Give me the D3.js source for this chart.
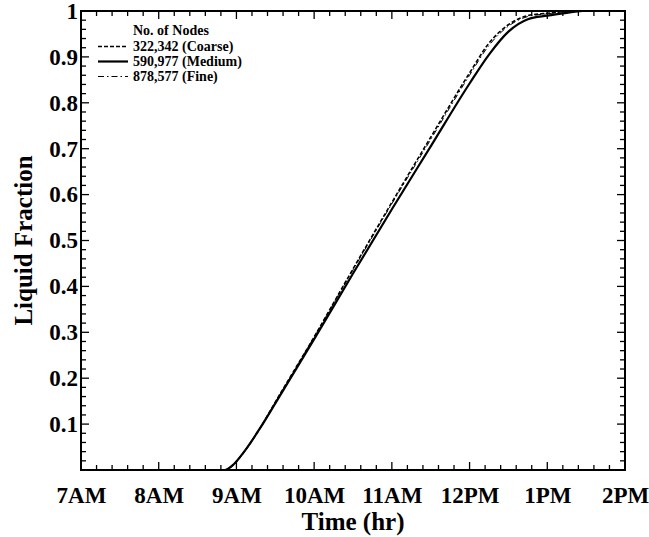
<!DOCTYPE html>
<html><head><meta charset="utf-8">
<script src="https://cdn.jsdelivr.net/npm/d3@7"></script>
<style>body{margin:0;background:#fff}svg{display:block}text{font-family:"Liberation Serif","Times New Roman",serif;font-weight:bold;fill:#000}</style>
</head><body>
<svg id="c" width="649" height="537"></svg>
<script>
const xTickLabels = ["7AM","8AM","9AM","10AM","11AM","12PM","1PM","2PM"];
const xTickValues = [7,8,9,10,11,12,13,14];
const yTickValues = [0.1,0.2,0.3,0.4,0.5,0.6,0.7,0.8,0.9,1];
const seriesNames = ["322,342 (Coarse)","590,977 (Medium)","878,577 (Fine)"];
const coarseT = [7.0,8.85,8.95,9.1,9.3,9.5,10.0,10.5,11.0,11.5,12.0,12.25,12.5,12.75,13.0,13.3];
const coarseF = [0,0,0.01,0.04,0.09,0.148,0.29,0.438,0.583,0.725,0.865,0.93,0.97,0.99,0.995,1.0];
const mediumT = [7.0,8.85,8.95,9.1,9.3,9.5,10.0,10.5,11.0,11.5,12.0,12.25,12.5,12.75,13.0,13.25,13.45];
const mediumF = [0,0,0.01,0.04,0.09,0.145,0.285,0.428,0.568,0.705,0.842,0.905,0.955,0.982,0.99,0.996,1.0];
const fineT = [7.0,8.85,8.95,9.1,9.3,9.5,10.0,10.5,11.0,11.5,12.0,12.25,12.5,12.75,13.0,13.35];
const fineF = [0,0,0.01,0.04,0.09,0.147,0.29,0.436,0.58,0.72,0.86,0.925,0.967,0.988,0.994,1.0];

const svg = d3.select("#c");
const L=81,R=625,T=11,B=470;
const x = d3.scaleLinear().domain([7,14]).range([L,R]);
const y = d3.scaleLinear().domain([0,1]).range([B,T]);

const g = svg.append("g");
const xMinor = d3.range(7,14.001,0.2);
const yMinor = d3.range(0,1.0001,0.02);
function isMajorX(v){return Math.abs(v-Math.round(v))<1e-6;}
function isMajorY(v){return Math.abs(v*10-Math.round(v*10))<1e-6;}
xMinor.forEach(v=>{
  const len = isMajorX(v)?8:5;
  g.append("line").attr("x1",x(v)).attr("x2",x(v)).attr("y1",B).attr("y2",B-len).attr("stroke","#000").attr("stroke-width",1.3);
  g.append("line").attr("x1",x(v)).attr("x2",x(v)).attr("y1",T).attr("y2",T+len).attr("stroke","#000").attr("stroke-width",1.3);
});
yMinor.forEach(v=>{
  const len = isMajorY(v)?8:5;
  g.append("line").attr("x1",L).attr("x2",L+len).attr("y1",y(v)).attr("y2",y(v)).attr("stroke","#000").attr("stroke-width",1.3);
  g.append("line").attr("x1",R).attr("x2",R-len).attr("y1",y(v)).attr("y2",y(v)).attr("stroke","#000").attr("stroke-width",1.3);
});

const xAxis = d3.axisBottom(x).tickValues(xTickValues).tickFormat((d,i)=>xTickLabels[i]).tickSize(0).tickPadding(17);
const xa = svg.append("g").attr("transform",`translate(0,${B})`).call(xAxis);
xa.select(".domain").remove();
xa.selectAll("text").attr("font-size",23).attr("font-family","Liberation Serif").attr("font-weight","bold").attr("fill","#000");
const yAxis = d3.axisLeft(y).tickValues(yTickValues).tickFormat(d=>d===1?"1":d3.format(".1f")(d)).tickSize(0).tickPadding(3);
const ya = svg.append("g").attr("transform",`translate(${L},0)`).call(yAxis);
ya.select(".domain").remove();
ya.selectAll("text").attr("font-size",23).attr("font-family","Liberation Serif").attr("font-weight","bold").attr("fill","#000");

const line = d3.line().x(d=>x(d[0])).y(d=>y(d[1])).curve(d3.curveMonotoneX);
const styles = [
  {dash:"4,2",w:1.6},
  {dash:null,w:2.2},
  {dash:"6,3,1.5,3",w:1}
];
const data = [d3.zip(coarseT,coarseF), d3.zip(mediumT,mediumF), d3.zip(fineT,fineF)];
data.forEach((d,i)=>{
  const p = svg.append("path").datum(d).attr("d",line).attr("fill","none").attr("stroke","#000").attr("stroke-width",styles[i].w);
  if(styles[i].dash) p.attr("stroke-dasharray",styles[i].dash);
});

svg.append("rect").attr("x",L).attr("y",T).attr("width",R-L).attr("height",B-T).attr("fill","none").attr("stroke","#000").attr("stroke-width",2);

const lg = svg.append("g");
lg.append("text").attr("x",133).attr("y",35).attr("font-size",14).text("No. of Nodes");
seriesNames.forEach((n,i)=>{
  const yy = 51 + i*15;
  const l = lg.append("line").attr("x1",98).attr("x2",128).attr("y1",yy-4.5).attr("y2",yy-4.5).attr("stroke","#000").attr("stroke-width",styles[i].w);
  if(styles[i].dash) l.attr("stroke-dasharray",styles[i].dash);
  lg.append("text").attr("x",133).attr("y",yy).attr("font-size",14).text(n);
});

svg.append("text").attr("x",(L+R)/2).attr("y",530).attr("text-anchor","middle").attr("font-size",25).text("Time (hr)");
svg.append("text").attr("transform",`translate(32,${(T+B)/2}) rotate(-90)`).attr("text-anchor","middle").attr("font-size",25).text("Liquid Fraction");
</script>
</body></html>
